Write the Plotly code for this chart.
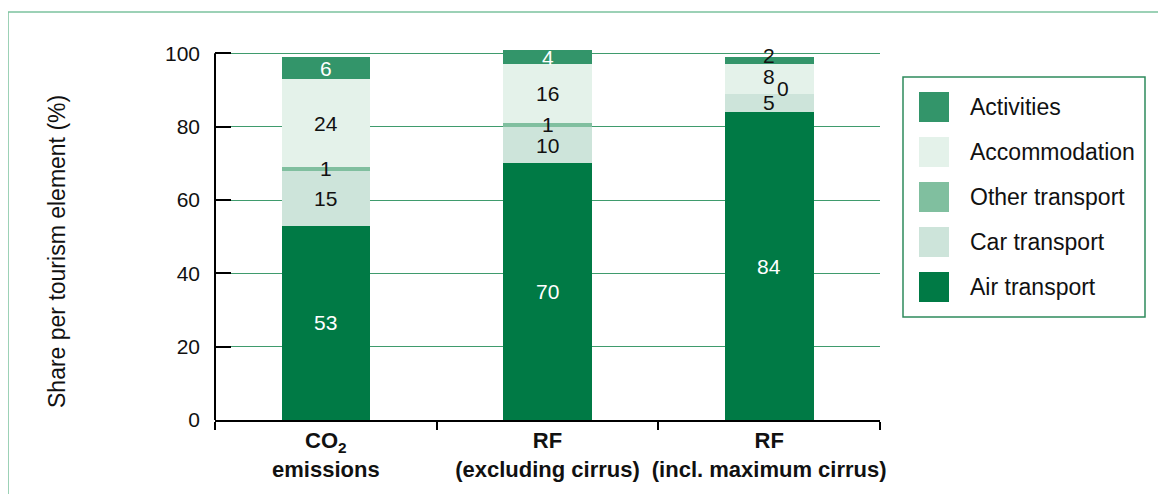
import plotly.graph_objects as go

FONT = "Liberation Sans, Arial, Helvetica, sans-serif"

categories = ["co2", "rf_excl", "rf_incl"]
category_labels = [
    "<b>CO<sub>2</sub><br>emissions</b>",
    "<b>RF<br>(excluding cirrus)</b>",
    "<b>RF<br>(incl. maximum cirrus)</b>",
]

# stacked bottom -> top
series_names = ["Air transport", "Car transport", "Other transport", "Accommodation", "Activities"]
air = [53, 70, 84]
car = [15, 10, 5]
other = [1, 1, 0]
accommodation = [24, 16, 8]
activities = [6, 4, 2]

colors = ["#007a45", "#cde4da", "#80bf9f", "#e4f2ea", "#33956a"]
label_colors = ["white", "#111111", "#111111", "#111111", "white"]

W, H = 1166, 494
OFF = 8  # page body margin
# plot area in screen pixels
L, R, T, B = 215, 880, 46, 420


def px(x):
    return (x - L) / (R - L)


def py(y):
    return (B - y) / (B - T)


series = [air, car, other, accommodation, activities]

fig = go.Figure()
for name, vals, col in zip(series_names, series, colors):
    fig.add_trace(go.Bar(x=categories, y=vals, name=name, marker=dict(color=col, line=dict(width=0)),
                         showlegend=False))

# value labels in the middle of each segment
annotations = []
for j, cat in enumerate(categories):
    base = 0
    for i, vals in enumerate(series):
        v = vals[j]
        color = label_colors[i]
        xshift, yshift = 0, 0
        if j == 2 and i == 4:
            color, yshift = "#111111", 5
        if j == 2 and i == 3:
            yshift = 3
        if j == 2 and i == 2:
            xshift, yshift = 14, 5
        annotations.append(dict(x=cat, y=base + v / 2, text=str(v), showarrow=False,
                                xshift=xshift, yshift=yshift,
                                font=dict(size=21, color=color, family=FONT)))
        base += v

shapes = [
    # outer frame
    dict(type="rect", xref="paper", yref="paper", x0=px(8), x1=px(1180), y0=py(510), y1=py(12),
         line=dict(color="#7cc29e", width=1.5), layer="below"),
    # y axis line (stops at 100)
    dict(type="line", xref="paper", yref="y", x0=0, x1=0, y0=0, y1=100,
         line=dict(color="black", width=2)),
    # legend box
    dict(type="rect", xref="paper", yref="paper", x0=px(903), x1=px(1145), y0=py(317), y1=py(77),
         line=dict(color="#2e8a5c", width=1.5)),
]
for k, i in enumerate(reversed(range(len(series_names)))):
    cy = 107 + 45 * k
    shapes.append(dict(type="rect", xref="paper", yref="paper", x0=px(919), x1=px(949),
                       y0=py(cy + 15), y1=py(cy - 15), fillcolor=colors[i], line=dict(width=0)))
    annotations.append(dict(xref="paper", yref="paper", x=px(968), y=py(cy), text=series_names[i],
                            xanchor="left", yanchor="middle", showarrow=False,
                            font=dict(size=23, color="#111111", family=FONT)))

# y axis title
annotations.append(dict(xref="paper", yref="paper", x=px(57), y=py(252), text="Share per tourism element (%)",
                        textangle=-90, showarrow=False, xanchor="center", yanchor="middle",
                        font=dict(size=23, color="#111111", family=FONT)))

fig.update_layout(
    width=W, height=H,
    margin=dict(l=L - OFF, r=W - (R - OFF), t=T - OFF, b=H - (B - OFF)),
    paper_bgcolor="white", plot_bgcolor="white",
    barmode="stack", bargap=0.6,
    font=dict(family=FONT, size=21, color="#111111"),
    shapes=shapes, annotations=annotations,
    xaxis=dict(tickvals=categories, ticktext=category_labels, showline=True, linecolor="black",
               linewidth=2, ticks="outside", ticklen=8, tickwidth=2, tickcolor="black",
               tickson="boundaries", showgrid=False, tickangle=0, automargin=False,
               tickfont=dict(size=22, color="#111111")),
    yaxis=dict(range=[0, 102], tickvals=[0, 20, 40, 60, 80, 100], showline=False,
               ticks="inside", ticklen=16, tickwidth=2, tickcolor="black",
               showgrid=True, gridcolor="#3f9b6d", gridwidth=1, zeroline=False, automargin=False,
               ticklabelstandoff=14, tickfont=dict(size=21)),
)

fig.write_html("out.html")
